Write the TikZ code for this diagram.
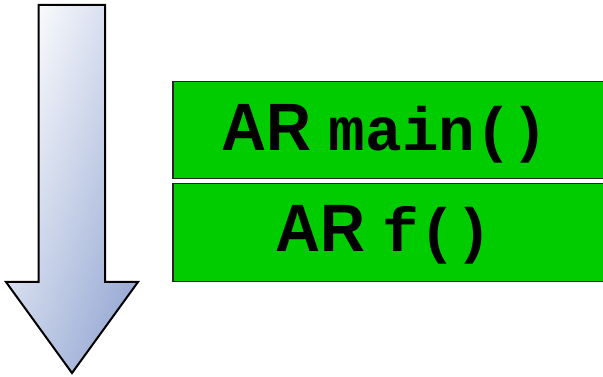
\documentclass[tikz,border=0pt]{standalone}
\usepackage{fontspec}
\newfontfamily\arsans[FakeStretch=0.93]{Liberation Sans}
\newfontfamily\armono{Liberation Mono}
\definecolor{argreen}{HTML}{00CC00}
\definecolor{arlight}{HTML}{FAFBFD}
\definecolor{arblue}{HTML}{98AAD4}
\begin{document}
\begin{tikzpicture}[x=1pt,y=1pt,
  frame/.style={draw=black!85,line width=1.5pt,fill=argreen,inner sep=0pt},
  lbl/.style={anchor=base,inner sep=0pt,font=\fontsize{67}{67}\selectfont\arsans\bfseries}]
\useasboundingbox (0,0) rectangle (603,377);
% arrow
\draw[line width=2pt,line join=miter,top color=arlight,bottom color=arblue,shading angle=70]
  (38.5,372) -- (105,372) -- (105,95) -- (138,95) -- (72,4) -- (6,95) -- (38.5,95) -- cycle;
% boxes
\node[frame,anchor=north west,minimum width=445pt,minimum height=97pt] (b1) at (172,296) {};
\node[frame,anchor=north west,minimum width=445pt,minimum height=98pt] (b2) at (172,194) {};
\node[lbl] (t1) at (385,226) {AR {\armono\fontsize{61}{61}\selectfont\bfseries main()}};
\node[lbl] (t2) at (384,125) {AR {\armono\fontsize{61}{61}\selectfont\bfseries f()}};
\end{tikzpicture}
\end{document}
